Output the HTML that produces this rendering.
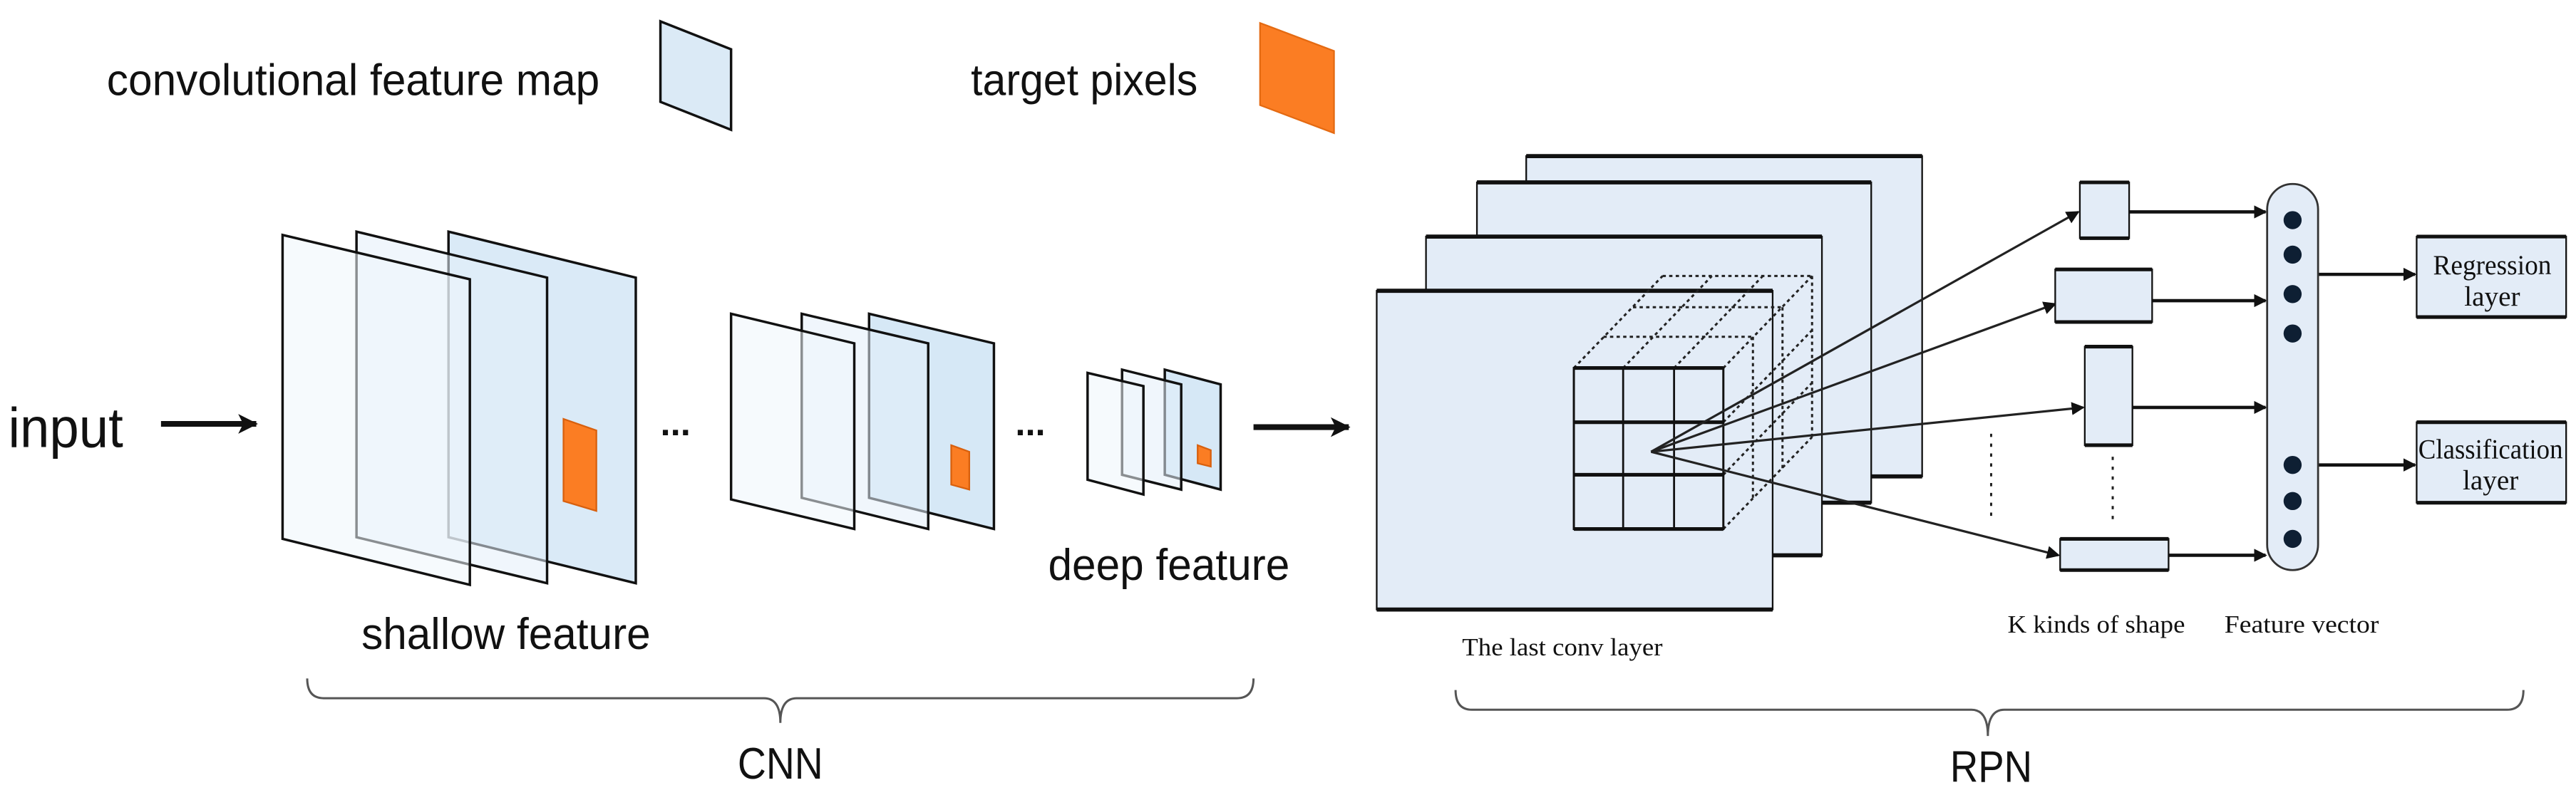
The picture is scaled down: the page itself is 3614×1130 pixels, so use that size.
<!DOCTYPE html>
<html><head><meta charset="utf-8"><style>
html,body{margin:0;padding:0;background:#fff;}
svg{display:block;}
.s{font-family:"Liberation Sans",sans-serif;fill:#111;}
.t{font-family:"Liberation Serif",serif;fill:#111;}
</style></head><body>
<svg width="3614" height="1130" viewBox="0 0 1568 490" preserveAspectRatio="none" xmlns="http://www.w3.org/2000/svg">
<defs>
<marker id="ah" markerWidth="8" markerHeight="8" refX="7" refY="4" orient="auto" markerUnits="userSpaceOnUse"><path d="M0,0 L8,4 L0,8 Z" fill="#111"/></marker>
<marker id="ab" markerWidth="12" markerHeight="12" refX="11" refY="6" orient="auto" markerUnits="userSpaceOnUse"><path d="M0,0 L12,6 L0,12 L3,6 Z" fill="#111"/></marker>
</defs>
<!-- legend -->
<text class="s" x="65" y="58" font-size="27" textLength="300" lengthAdjust="spacingAndGlyphs">convolutional feature map</text>
<polygon points="402,13 445,30 445,79 402,62" fill="#dbeaf6" stroke="#111" stroke-width="1.5"/>
<text class="s" x="591" y="58" font-size="27" textLength="138" lengthAdjust="spacingAndGlyphs">target pixels</text>
<polygon points="767,14 812,31 812,81 767,64" fill="#fb7d23" stroke="#e46a12" stroke-width="1"/>
<!-- input -->
<text class="s" x="5" y="272" font-size="34" textLength="70" lengthAdjust="spacingAndGlyphs">input</text>
<line x1="98" y1="258" x2="156" y2="258" stroke="#111" stroke-width="3.5" marker-end="url(#ab)"/>
<!-- shallow -->
<polygon points="273,141 387,169 387,355 273,327" fill="#d6e8f6" fill-opacity="0.9" stroke="#111" stroke-width="1.5"/>
<polygon points="343,255 363,262 363,311 343,305" fill="#fb7d23" stroke="#d8600e" stroke-width="1"/>
<polygon points="217,141 333,169 333,355 217,327" fill="#e4eff9" fill-opacity="0.55" stroke="#111" stroke-width="1.5"/>
<polygon points="172,143 286,170 286,356 172,328" fill="#eef5fc" fill-opacity="0.55" stroke="#111" stroke-width="1.5"/>
<text class="s" x="402" y="265" font-size="22" font-weight="bold">...</text>
<!-- mid -->
<polygon points="529,191 605,209 605,322 529,303" fill="#d6e8f6" stroke="#111" stroke-width="1.5"/>
<polygon points="579,271 590,275 590,298 579,295" fill="#fb7d23" stroke="#d8600e" stroke-width="1"/>
<polygon points="488,191 565,209 565,322 488,303" fill="#e4eff9" fill-opacity="0.55" stroke="#111" stroke-width="1.5"/>
<polygon points="445,191 520,209 520,322 445,304" fill="#eef5fc" fill-opacity="0.55" stroke="#111" stroke-width="1.5"/>
<text class="s" x="618" y="265" font-size="22" font-weight="bold">...</text>
<!-- deep -->
<polygon points="709,225 743,234 743,298 709,289" fill="#d6e8f6" stroke="#111" stroke-width="1.5"/>
<polygon points="729,271 737,274 737,284 729,282" fill="#fb7d23" stroke="#d8600e" stroke-width="1"/>
<polygon points="683,225 719,234 719,298 683,289" fill="#e4eff9" fill-opacity="0.55" stroke="#111" stroke-width="1.5"/>
<polygon points="662,227 696,235 696,301 662,292" fill="#eef5fc" fill-opacity="0.55" stroke="#111" stroke-width="1.5"/>
<text class="s" x="638" y="353" font-size="27" textLength="147" lengthAdjust="spacingAndGlyphs">deep feature</text>
<text class="s" x="220" y="395" font-size="27" textLength="176" lengthAdjust="spacingAndGlyphs">shallow feature</text>
<line x1="763" y1="260" x2="821" y2="260" stroke="#111" stroke-width="3.5" marker-end="url(#ab)"/>
<!-- CNN brace -->
<path d="M187,413 Q187,425 197,425 L465,425 Q475,425 475,440 Q475,425 485,425 L753,425 Q763,425 763,413" fill="none" stroke="#555" stroke-width="1.3"/>
<text class="s" x="475" y="474" font-size="27" text-anchor="middle" textLength="52" lengthAdjust="spacingAndGlyphs">CNN</text>
<!-- conv layers -->
<g stroke="#111">
<rect x="929" y="95" width="241" height="195" fill="#e3ecf7" stroke-width="1"/>
<line x1="929" y1="95" x2="1170" y2="95" stroke-width="2.5"/><line x1="1110" y1="290" x2="1170" y2="290" stroke-width="2.5"/>
<rect x="899" y="111" width="240" height="195" fill="#e3ecf7" stroke-width="1"/>
<line x1="899" y1="111" x2="1139" y2="111" stroke-width="2.5"/><line x1="1080" y1="306" x2="1139" y2="306" stroke-width="2.5"/>
<rect x="868" y="144" width="241" height="194" fill="#e3ecf7" stroke-width="1"/>
<line x1="868" y1="144" x2="1109" y2="144" stroke-width="2.5"/><line x1="1079" y1="338" x2="1109" y2="338" stroke-width="2.5"/>
<rect x="838" y="177" width="241" height="194" fill="#e3ecf7" stroke-width="1"/>
<line x1="838" y1="177" x2="1079" y2="177" stroke-width="2.5"/><line x1="838" y1="371" x2="1079" y2="371" stroke-width="2.5"/>
</g>
<!-- cube dotted -->
<g stroke="#222" stroke-width="1.3" stroke-dasharray="2,2" fill="none">
<line x1="976" y1="205" x2="1067" y2="205"/><line x1="994" y1="187" x2="1085" y2="187"/><line x1="1012" y1="168" x2="1103" y2="168"/>
<line x1="958" y1="224" x2="1012" y2="168"/><line x1="988" y1="224" x2="1042" y2="168"/><line x1="1019" y1="224" x2="1073" y2="168"/><line x1="1049" y1="224" x2="1103" y2="168"/>
<line x1="1067" y1="205" x2="1067" y2="303"/><line x1="1085" y1="187" x2="1085" y2="285"/><line x1="1103" y1="168" x2="1103" y2="266"/>
<line x1="1049" y1="257" x2="1103" y2="201"/><line x1="1049" y1="289" x2="1103" y2="233"/><line x1="1049" y1="322" x2="1103" y2="266"/>
</g>
<!-- grid -->
<g stroke="#111" fill="none">
<rect x="958" y="224" width="91" height="98" fill="#e3ecf7" stroke-width="1.3"/>
<line x1="958" y1="224" x2="1049" y2="224" stroke-width="2.2"/><line x1="958" y1="322" x2="1049" y2="322" stroke-width="2.2"/>
<line x1="988" y1="224" x2="988" y2="322" stroke-width="1.2"/><line x1="1019" y1="224" x2="1019" y2="322" stroke-width="1.2"/>
<line x1="958" y1="257" x2="1049" y2="257" stroke-width="2.2"/><line x1="958" y1="289" x2="1049" y2="289" stroke-width="2.2"/>
</g>
<!-- arrows from center -->
<g stroke="#222" stroke-width="1.4">
<line x1="1005" y1="275" x2="1265" y2="129" marker-end="url(#ah)"/>
<line x1="1005" y1="275" x2="1251" y2="185" marker-end="url(#ah)"/>
<line x1="1005" y1="275" x2="1268" y2="248" marker-end="url(#ah)"/>
<line x1="1005" y1="275" x2="1253" y2="338" marker-end="url(#ah)"/>
</g>
<!-- boxes -->
<g stroke="#111" fill="#e3ecf7">
<rect x="1266" y="111" width="30" height="34" stroke-width="1"/>
<rect x="1251" y="164" width="59" height="32" stroke-width="1"/>
<rect x="1269" y="211" width="29" height="60" stroke-width="1"/>
<rect x="1254" y="328" width="66" height="19" stroke-width="1"/>
</g>
<g stroke="#111" stroke-width="2.2">
<line x1="1266" y1="111" x2="1296" y2="111"/><line x1="1266" y1="145" x2="1296" y2="145"/>
<line x1="1251" y1="164" x2="1310" y2="164"/><line x1="1251" y1="196" x2="1310" y2="196"/>
<line x1="1269" y1="211" x2="1298" y2="211"/><line x1="1269" y1="271" x2="1298" y2="271"/>
<line x1="1254" y1="328" x2="1320" y2="328"/><line x1="1254" y1="347" x2="1320" y2="347"/>
</g>
<g stroke="#111" stroke-width="2">
<line x1="1296" y1="129" x2="1379" y2="129" marker-end="url(#ah)"/>
<line x1="1310" y1="183" x2="1379" y2="183" marker-end="url(#ah)"/>
<line x1="1298" y1="248" x2="1379" y2="248" marker-end="url(#ah)"/>
<line x1="1320" y1="338" x2="1379" y2="338" marker-end="url(#ah)"/>
<line x1="1411" y1="167" x2="1470" y2="167" marker-end="url(#ah)"/>
<line x1="1411" y1="283" x2="1470" y2="283" marker-end="url(#ah)"/>
</g>
<g stroke="#222" stroke-width="1.3" stroke-dasharray="2,4">
<line x1="1212" y1="264" x2="1212" y2="318"/><line x1="1286" y1="278" x2="1286" y2="318"/><line x1="1396" y1="220" x2="1396" y2="267"/>
</g>
<!-- feature vector -->
<rect x="1380" y="112" width="31" height="235" rx="15.5" fill="#e3ecf7" stroke="#333" stroke-width="1.2"/>
<g fill="#0e1f33">
<ellipse cx="1395.5" cy="134" rx="5.5" ry="5.5"/><ellipse cx="1395.5" cy="155" rx="5.5" ry="5.5"/><ellipse cx="1395.5" cy="179" rx="5.5" ry="5.5"/><ellipse cx="1395.5" cy="203" rx="5.5" ry="5.5"/>
<ellipse cx="1395.5" cy="283" rx="5.5" ry="5.5"/><ellipse cx="1395.5" cy="305" rx="5.5" ry="5.5"/><ellipse cx="1395.5" cy="328" rx="5.5" ry="5.5"/>
</g>
<!-- output boxes -->
<rect x="1471" y="144" width="91" height="49" fill="#e3ecf7" stroke="#111" stroke-width="1"/>
<line x1="1471" y1="144" x2="1562" y2="144" stroke="#111" stroke-width="2.2"/><line x1="1471" y1="193" x2="1562" y2="193" stroke="#111" stroke-width="2.2"/>
<rect x="1471" y="257" width="91" height="49" fill="#e3ecf7" stroke="#111" stroke-width="1"/>
<line x1="1471" y1="257" x2="1562" y2="257" stroke="#111" stroke-width="2.2"/><line x1="1471" y1="306" x2="1562" y2="306" stroke="#111" stroke-width="2.2"/>
<text class="t" x="1517" y="167" font-size="17" text-anchor="middle" textLength="72" lengthAdjust="spacingAndGlyphs">Regression</text>
<text class="t" x="1517" y="186" font-size="17" text-anchor="middle" textLength="34" lengthAdjust="spacingAndGlyphs">layer</text>
<text class="t" x="1516" y="279" font-size="17" text-anchor="middle" textLength="88" lengthAdjust="spacingAndGlyphs">Classification</text>
<text class="t" x="1516" y="298" font-size="17" text-anchor="middle" textLength="34" lengthAdjust="spacingAndGlyphs">layer</text>
<!-- labels -->
<text class="t" x="890" y="399" font-size="15" textLength="122" lengthAdjust="spacingAndGlyphs">The last conv layer</text>
<text class="t" x="1222" y="385" font-size="15" textLength="108" lengthAdjust="spacingAndGlyphs">K kinds of shape</text>
<text class="t" x="1354" y="385" font-size="15" textLength="94" lengthAdjust="spacingAndGlyphs">Feature vector</text>
<!-- RPN brace -->
<path d="M886,420 Q886,432 896,432 L1200,432 Q1210,432 1210,448 Q1210,432 1220,432 L1526,432 Q1536,432 1536,420" fill="none" stroke="#555" stroke-width="1.3"/>
<text class="s" x="1212" y="476" font-size="27" text-anchor="middle" textLength="50" lengthAdjust="spacingAndGlyphs">RPN</text>
</svg>
</body></html>
